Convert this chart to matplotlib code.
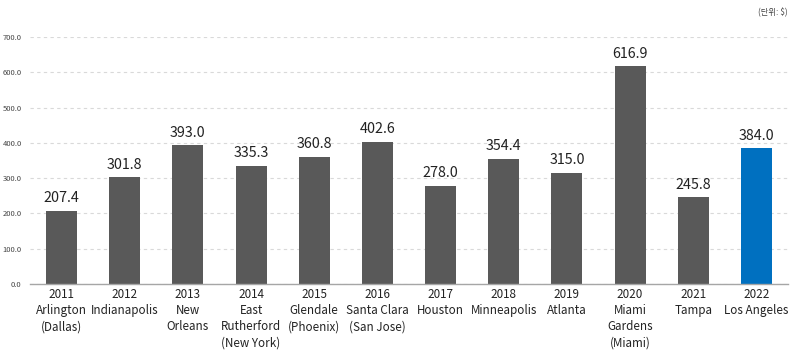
import matplotlib
matplotlib.use("Agg")
import matplotlib.pyplot as plt

plt.rcParams['font.family'] = ['Noto Sans CJK KR', 'DejaVu Sans']

years = ["2011", "2012", "2013", "2014", "2015", "2016", "2017", "2018", "2019", "2020", "2021", "2022"]
cities = ["Arlington\n(Dallas)", "Indianapolis", "New\nOrleans", "East\nRutherford\n(New York)",
          "Glendale\n(Phoenix)", "Santa Clara\n(San Jose)", "Houston", "Minneapolis", "Atlanta",
          "Miami\nGardens\n(Miami)", "Tampa", "Los Angeles"]
values = [207.4, 301.8, 393.0, 335.3, 360.8, 402.6, 278.0, 354.4, 315.0, 616.9, 245.8, 384.0]
yticks = [0, 100, 200, 300, 400, 500, 600, 700]

gray = "#595959"
blue = "#0070C0"
colors = [gray] * (len(values) - 1) + [blue]

fig = plt.figure(figsize=(8, 3.56), dpi=100)
ax = fig.add_axes([0.0375, 0.2022, 0.9475, 0.694])

x = list(range(len(values)))
ax.bar(x, values, width=0.49, color=colors, zorder=3)

for xi, v in zip(x, values):
    ax.annotate(f"{v:.1f}", (xi, v), xytext=(0, 4), textcoords="offset points",
                ha="center", va="bottom", fontsize=10.3, color="#222222")

ax.set_xlim(-0.5, 11.5)
ax.set_ylim(0, 700)
ax.set_yticks(yticks)
ax.set_yticklabels([f"{t:.1f}" for t in yticks], fontsize=5.5, color="#444444")
ax.set_xticks(x)
ax.set_xticklabels([f"{y}\n{c}" for y, c in zip(years, cities)], fontsize=8.4,
                   linespacing=1.3, color="#222222")
ax.tick_params(axis="both", length=0)
ax.tick_params(axis="x", pad=3)
ax.tick_params(axis="y", pad=6)

ax.grid(axis="y", color="#d9d9d9", linestyle=(0, (3, 3)), linewidth=0.8, zorder=0)
for s in ["top", "right", "left"]:
    ax.spines[s].set_visible(False)
ax.spines["bottom"].set_color("#a6a6a6")
ax.spines["bottom"].set_linewidth(1)
ax.spines["bottom"].set_zorder(4)

fig.text(0.985, 0.965, "(단위: $)", ha="right", va="center", fontsize=6, color="#444444")

fig.savefig("out.png", dpi=100)
